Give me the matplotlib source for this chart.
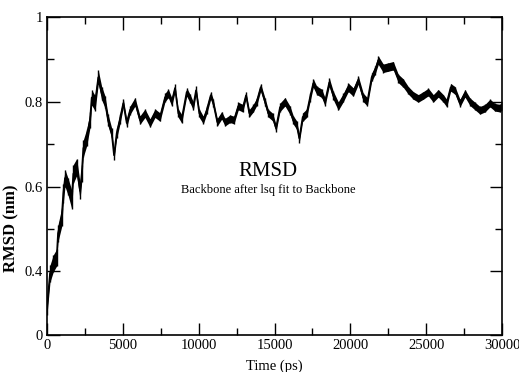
import matplotlib
matplotlib.use("Agg")
import matplotlib.pyplot as plt
from matplotlib.ticker import FixedLocator

time_ps = [0, 198, 415, 640, 725, 970, 1075, 1187, 1385, 1628, 1734, 1958, 2176, 2288,
           2393, 2617, 2835, 2947, 3165, 3382, 3606, 3824, 4022, 4266, 4417, 4595, 4813,
           5030, 5255, 5472, 5802, 6131, 6461, 6791, 7120, 7450, 7780, 7997, 8222, 8439,
           8657, 8881, 9210, 9428, 9646, 9824, 10041, 10305, 10529, 10793, 10964, 11228,
           11518, 11736, 12065, 12329, 12612, 12903, 13120, 13338, 13601, 13826, 14089,
           14373, 14590, 14881, 15098, 15362, 15692, 16021, 16239, 16463, 16634, 16859,
           17122, 17340, 17557, 17782, 18111, 18329, 18612, 18876, 19206, 19535, 19865,
           20195, 20524, 20854, 21118, 21408, 21625, 21843, 22172, 22502, 22832, 23161,
           23491, 23821, 24150, 24480, 24810, 25139, 25469, 25798, 26128, 26352, 26616,
           26900, 27229, 27559, 27889, 28218, 28548, 28878, 29207, 29537, 29867, 30000]
rmsd_nm = [0.316, 0.395, 0.419, 0.433, 0.490, 0.528, 0.584, 0.620, 0.600, 0.570, 0.630,
           0.646, 0.590, 0.630, 0.690, 0.716, 0.757, 0.810, 0.797, 0.858, 0.820, 0.800,
           0.757, 0.726, 0.674, 0.726, 0.760, 0.797, 0.750, 0.780, 0.800, 0.757, 0.773,
           0.750, 0.773, 0.764, 0.810, 0.820, 0.800, 0.832, 0.773, 0.760, 0.823, 0.808,
           0.790, 0.827, 0.773, 0.757, 0.780, 0.815, 0.797, 0.752, 0.768, 0.752, 0.760,
           0.757, 0.790, 0.785, 0.815, 0.773, 0.785, 0.800, 0.834, 0.800, 0.773, 0.764,
           0.738, 0.787, 0.800, 0.780, 0.757, 0.745, 0.714, 0.764, 0.773, 0.810, 0.844,
           0.827, 0.820, 0.800, 0.846, 0.815, 0.790, 0.810, 0.834, 0.823, 0.851, 0.810,
           0.800, 0.858, 0.874, 0.898, 0.879, 0.882, 0.885, 0.855, 0.844, 0.827, 0.815,
           0.808, 0.815, 0.823, 0.808, 0.820, 0.808, 0.797, 0.834, 0.827, 0.797, 0.820,
           0.800, 0.790, 0.780, 0.785, 0.797, 0.787, 0.785, 0.790]
# half-thickness of the fluctuation band (nm)
rmsd_spread = [0.018, 0.020, 0.020, 0.020, 0.020, 0.022, 0.022, 0.020, 0.020, 0.022,
               0.022, 0.020, 0.020, 0.020, 0.020, 0.020, 0.018, 0.018, 0.018, 0.016,
               0.016, 0.014, 0.014, 0.012, 0.012, 0.012, 0.012,
               0.010, 0.010, 0.010, 0.010, 0.010, 0.010, 0.010, 0.010, 0.010, 0.010,
               0.010, 0.010, 0.010, 0.010, 0.010, 0.010, 0.010, 0.010, 0.010, 0.010,
               0.009, 0.009, 0.009, 0.009, 0.009, 0.009, 0.009, 0.009, 0.009, 0.009,
               0.009, 0.009, 0.009, 0.009, 0.009, 0.009, 0.009, 0.009, 0.009, 0.009,
               0.010, 0.010, 0.010, 0.010, 0.010, 0.010, 0.010, 0.010, 0.010, 0.010,
               0.010, 0.010, 0.010, 0.010, 0.010, 0.010, 0.010, 0.010, 0.010, 0.010,
               0.010, 0.010, 0.010, 0.010, 0.010, 0.010, 0.010, 0.010, 0.010, 0.010,
               0.009, 0.009, 0.009, 0.009, 0.009, 0.009, 0.009, 0.009, 0.009, 0.009,
               0.009, 0.009, 0.009, 0.009, 0.009, 0.009, 0.009, 0.009, 0.009, 0.009,
               0.009]

x_ticks = [0, 5000, 10000, 15000, 20000, 25000, 30000]
x_tick_labels = ["0", "5000", "10000", "15000", "20000", "25000", "30000"]
y_ticks = [0.25, 0.4, 0.6, 0.8, 1.0]
y_tick_labels = ["0", "0.4", "0.6", "0.8", "1"]
title = "RMSD"
subtitle = "Backbone after lsq fit to Backbone"
x_label = "Time (ps)"
y_label = "RMSD (nm)"

plt.rcParams['font.family'] = ['Liberation Serif', 'DejaVu Serif']

fig = plt.figure(figsize=(5.19, 3.72), dpi=100)
ax = fig.add_axes([47/519, 37/372, 455/519, 318/372])
n = min(len(time_ps), len(rmsd_nm), len(rmsd_spread))
lower = [rmsd_nm[i] - rmsd_spread[i] for i in range(n)]
upper = [rmsd_nm[i] + rmsd_spread[i] for i in range(n)]
ax.fill_between(time_ps[:n], lower, upper, color='black', lw=0)
ax.vlines(time_ps[:n], lower, upper, color='black', lw=1.0)
ax.plot(time_ps[:n], rmsd_nm[:n], color='black', lw=1.2)
ax.set_xlim(0, 30000)
ax.set_ylim(0.25, 1.0)
ax.set_xticks(x_ticks)
ax.set_xticklabels(x_tick_labels)
ax.set_yticks(y_ticks)
ax.set_yticklabels(y_tick_labels)
ax.xaxis.set_minor_locator(FixedLocator([2500, 7500, 12500, 17500, 22500, 27500]))
ax.yaxis.set_minor_locator(FixedLocator([0.5, 0.7, 0.9]))
ax.tick_params(which='both', direction='in', top=True, right=True, labelsize=10.5, pad=3)
ax.tick_params(which='major', length=9, width=1)
ax.tick_params(which='minor', length=5, width=1)
for s in ax.spines.values():
    s.set_linewidth(1.2)
ax.text(0.486, 0.515, title, transform=ax.transAxes, ha='center', va='center', fontsize=15)
ax.text(0.486, 0.456, subtitle, transform=ax.transAxes, ha='center', va='center', fontsize=9)
ax.set_xlabel(x_label, fontsize=10.5, labelpad=5)
ax.set_ylabel(y_label, fontsize=12, fontweight='bold')
ax.yaxis.set_label_coords(-0.06, 0.336)
fig.savefig("out.png", dpi=100)
